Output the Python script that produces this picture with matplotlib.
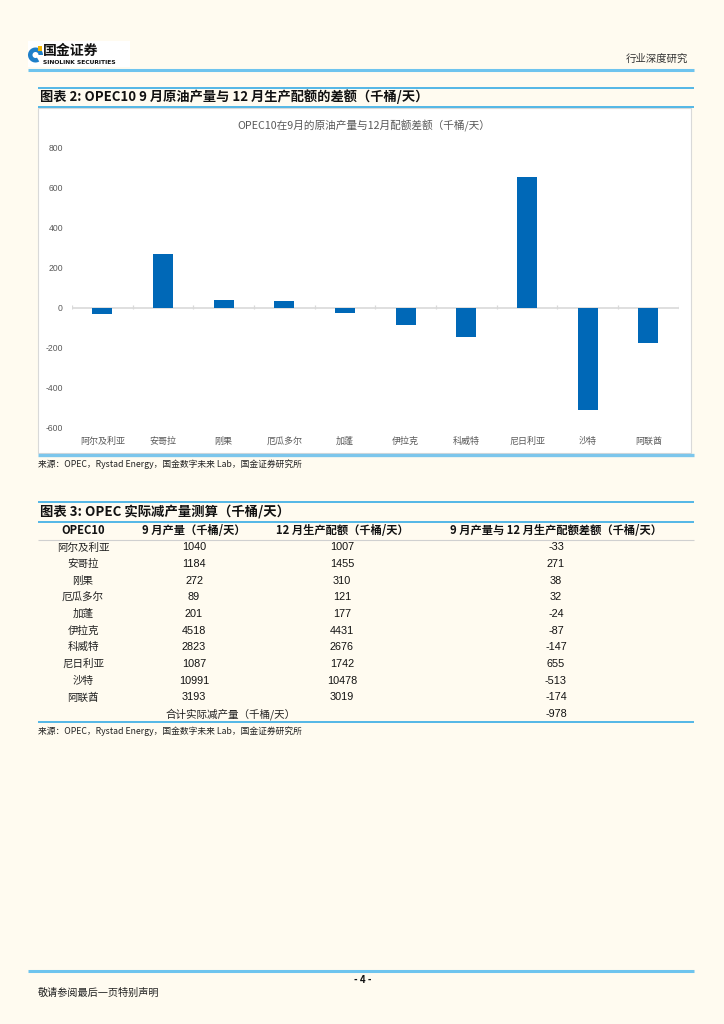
import matplotlib
matplotlib.use("Agg")
import matplotlib.pyplot as plt
from matplotlib.patches import Rectangle, Wedge

plt.rcParams['font.family'] = ['Noto Sans CJK SC', 'DejaVu Sans']

# ---------------- data ----------------
countries = ['阿尔及利亚', '安哥拉', '刚果', '厄瓜多尔', '加蓬', '伊拉克', '科威特', '尼日利亚', '沙特', '阿联酋']
sep_output = [1040, 1184, 272, 89, 201, 4518, 2823, 1087, 10991, 3193]
dec_quota = [1007, 1455, 310, 121, 177, 4431, 2676, 1742, 10478, 3019]
diff = [-33, 271, 38, 32, -24, -87, -147, 655, -513, -174]
total_cut = -978
yticks = [-600, -400, -200, 0, 200, 400, 600, 800]

W, H = 724, 1024
BG = '#FFFBF0'
BLUE_LINE = '#45B1E5'
BAR = '#0068B7'
GRAY_TXT = '#595959'

fig = plt.figure(figsize=(W / 100, H / 100), dpi=100)
fig.patch.set_facecolor(BG)

# page overlay in pixel coordinates
page = fig.add_axes([0, 0, 1, 1])
page.set_xlim(0, W)
page.set_ylim(H, 0)
page.axis('off')
page.set_zorder(0)

def hline(y, x0, x1, color=BLUE_LINE, lw=1.2):
    page.plot([x0, x1], [y, y], color=color, lw=lw, solid_capstyle='butt')

# ---- header ----
page.add_patch(Rectangle((28, 41), 102, 26, facecolor='white', edgecolor='none'))
page.add_patch(Wedge((35.5, 55), 7.5, 60, 360, width=4.5, facecolor='#1E7FC8', edgecolor='none'))
page.add_patch(Rectangle((37.5, 46), 4.5, 4.5, facecolor='#F2B705', edgecolor='none'))
page.text(43, 51, '国金证券', fontsize=10, fontweight='bold', color='#111111', va='center', ha='left')
page.text(43, 62.5, 'SINOLINK SECURITIES', fontsize=4.3, fontweight='bold', color='#111111',
          va='center', ha='left', family=['DejaVu Sans'])
page.text(688, 59, '行业深度研究', fontsize=7.5, color='#333333', va='center', ha='right')
hline(70, 28, 694, color='#6EC4EE', lw=2.2)

# ---- figure 2 title band ----
hline(88, 38, 694, lw=1.3)
page.text(40, 97, '图表 2: OPEC10 9 月原油产量与 12 月生产配额的差额（千桶/天）',
          fontsize=9.5, fontweight='bold', color='#111111', va='center', ha='left')
hline(107, 38, 694, lw=1.3)

# chart box
page.add_patch(Rectangle((38, 108), 653, 345, facecolor='white', edgecolor='#D9D9D9', lw=0.8))
page.text(364, 126, 'OPEC10在9月的原油产量与12月配额差额（千桶/天）', fontsize=7.7,
          color=GRAY_TXT, va='center', ha='center')
hline(455, 38, 694, color='#7CC6EC', lw=2.4)
page.text(38, 464, '来源：OPEC，Rystad Energy，国金数字未来 Lab，国金证券研究所', fontsize=6.3,
          color='#222222', va='center', ha='left')

# ---- chart axes ----
ax_l, ax_r = 72, 678.7
ax_t, ax_b = 147.7, 427.7
ax = fig.add_axes([ax_l / W, 1 - ax_b / H, (ax_r - ax_l) / W, (ax_b - ax_t) / H])
ax.set_zorder(2)
ax.patch.set_alpha(0)
xs = list(range(len(countries)))
ax.bar(xs, diff, width=0.33, color=BAR, zorder=3)
ax.axhline(0, color='#D9D9D9', lw=1.2, zorder=1)
ax.vlines([k - 0.5 for k in range(len(countries) + 1)], -8, 12, color='#D9D9D9', lw=0.9, zorder=1)
ax.set_xlim(-0.5, len(countries) - 0.5)
ax.set_ylim(-600, 800)
ax.set_yticks(yticks)
ax.set_yticklabels([str(v) for v in yticks], family=['Liberation Sans'])
ax.set_xticks(xs)
ax.set_xticklabels(countries)
ax.tick_params(axis='y', length=0, pad=6.5, labelsize=6.2, labelcolor=GRAY_TXT)
ax.tick_params(axis='x', length=0, pad=6.5, labelsize=6.5, labelcolor=GRAY_TXT)
for s in ax.spines.values():
    s.set_visible(False)

# ---- figure 3 table ----
hline(502, 38, 694, lw=1.3)
page.text(40, 511, '图表 3: OPEC 实际减产量测算（千桶/天）', fontsize=9.6, fontweight='bold',
          color='#111111', va='center', ha='left')
hline(522, 38, 694, lw=1.3)

col_x = [83, 194, 342, 556]
headers = ['OPEC10', '9 月产量（千桶/天）', '12 月生产配额（千桶/天）', '9 月产量与 12 月生产配额差额（千桶/天）']
for cx, h in zip(col_x, headers):
    page.text(cx, 531, h, fontsize=8.1, fontweight='bold', color='#111111', va='center', ha='center')
hline(540, 38, 694, color='#D0D0D0', lw=0.8)

row_y0, row_dy = 547.5, 16.65
num_font = ['Liberation Sans', 'DejaVu Sans']
for i, name in enumerate(countries):
    y = row_y0 + i * row_dy
    page.text(col_x[0], y, name, fontsize=7.6, color='#222222', va='center', ha='center')
    page.text(col_x[1], y, str(sep_output[i]), fontsize=7.8, color='#111111', va='center',
              ha='center', family=num_font)
    page.text(col_x[2], y, str(dec_quota[i]), fontsize=7.8, color='#111111', va='center',
              ha='center', family=num_font)
    page.text(col_x[3], y, str(diff[i]), fontsize=7.8, color='#111111', va='center',
              ha='center', family=num_font)
y_tot = row_y0 + len(countries) * row_dy
page.text(231, y_tot, '合计实际减产量（千桶/天）', fontsize=7.6, color='#222222', va='center', ha='center')
page.text(col_x[3], y_tot, str(total_cut), fontsize=7.8, color='#111111', va='center', ha='center',
          family=num_font)
hline(722, 38, 694, lw=1.3)
page.text(38, 731, '来源：OPEC，Rystad Energy，国金数字未来 Lab，国金证券研究所', fontsize=6.3,
          color='#222222', va='center', ha='left')

# ---- footer ----
hline(971, 28, 694, color='#6EC4EE', lw=2.2)
page.text(363, 980, '- 4 -', fontsize=7, fontweight='bold', color='#111111', va='center', ha='center')
page.text(38, 993, '敬请参阅最后一页特别声明', fontsize=7.3, color='#222222', va='center', ha='left')

fig.savefig('out.png', dpi=100, facecolor=BG)
